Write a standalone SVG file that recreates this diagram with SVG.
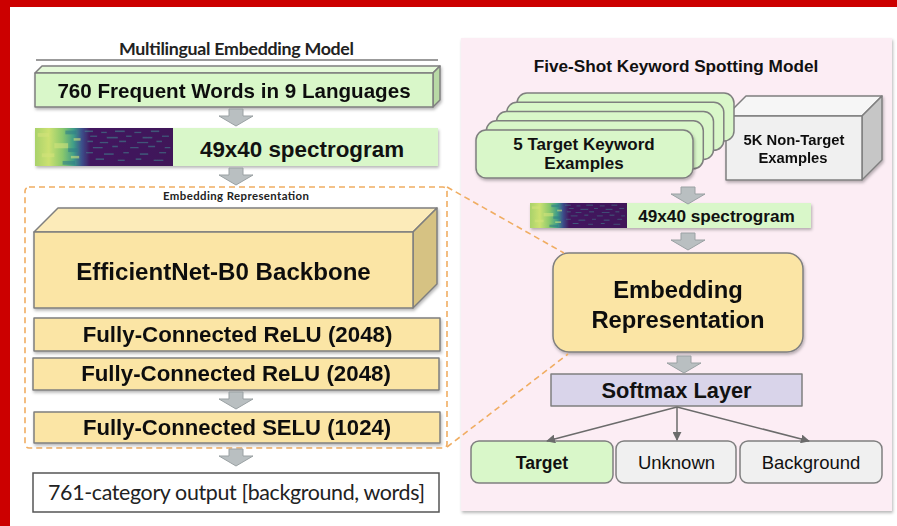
<svg xmlns="http://www.w3.org/2000/svg" xmlns:xlink="http://www.w3.org/1999/xlink" width="897" height="526" viewBox="0 0 897 526">
  <defs>
    <style>
      .b { font-family: "Liberation Sans", Arial, sans-serif; font-weight: bold; fill: #111; text-anchor: middle; }
      .r { font-family: "Liberation Sans", Arial, sans-serif; fill: #111; text-anchor: middle; }
      .l { font-family: Lato, "Liberation Sans", sans-serif; fill: #222; text-anchor: middle; }
      .edge { stroke: #7f7f7f; stroke-width: 1.5; stroke-linejoin: round; }
      .green { fill: #d9f7c9; }
      .greenTop { fill: #e4f9d8; }
      .greenSide { fill: #b8d9a5; }
      .gold { fill: #fbe5a5; }
      .goldTop { fill: #fcebb9; }
      .goldSide { fill: #d6c283; }
      .grey { fill: #f0f0f0; }
      .greyTop { fill: #f6f6f6; }
      .greySide { fill: #c6c6c6; }
      .blockArrow { fill: #b9bfc1; stroke: #9aa1a3; stroke-width: 1; }
      .thin { stroke: #6b6b6b; stroke-width: 1.5; fill: none; }
      .dash { stroke: #f0ad62; stroke-width: 1.6; stroke-dasharray: 6 4; fill: none; }
    </style>
    <filter id="shadow" x="-5%" y="-10%" width="112%" height="130%">
      <feDropShadow dx="1" dy="2" stdDeviation="1.4" flood-color="#000" flood-opacity="0.28"/>
    </filter>
    <filter id="soft" x="0" y="0" width="100%" height="100%">
      <feGaussianBlur stdDeviation="0.4"/>
    </filter>
    <linearGradient id="specGrad" x1="0" y1="0" x2="1" y2="0">
      <stop offset="0" stop-color="#a9d26b"/>
      <stop offset="0.1" stop-color="#cce171"/>
      <stop offset="0.2" stop-color="#8ac86c"/>
      <stop offset="0.28" stop-color="#3f9d88"/>
      <stop offset="0.34" stop-color="#3b4f8b"/>
      <stop offset="0.4" stop-color="#43195f"/>
      <stop offset="1" stop-color="#3f1759"/>
    </linearGradient>
    <!-- spectrogram thumbnail, stretched into place -->
    <symbol id="spec" viewBox="0 0 100 30" preserveAspectRatio="none">
      <g filter="url(#soft)">
        <rect width="100" height="30" fill="url(#specGrad)"/>
        <g fill="#3f8c92" opacity="0.55">
          <rect x="36" y="2" width="6" height="1.2"/><rect x="48" y="3" width="4" height="1"/>
          <rect x="58" y="2" width="7" height="1.2"/><rect x="72" y="3" width="5" height="1"/>
          <rect x="84" y="2" width="6" height="1.2"/><rect x="40" y="6" width="5" height="1"/>
          <rect x="52" y="7" width="8" height="1.2"/><rect x="66" y="6" width="4" height="1"/>
          <rect x="78" y="7" width="7" height="1.2"/><rect x="92" y="6" width="5" height="1"/>
          <rect x="38" y="10" width="4" height="1.2"/><rect x="47" y="11" width="6" height="1"/>
          <rect x="61" y="10" width="5" height="1.2"/><rect x="74" y="11" width="8" height="1"/>
          <rect x="88" y="10" width="4" height="1.2"/><rect x="42" y="15" width="7" height="1"/>
          <rect x="56" y="14" width="4" height="1.2"/><rect x="69" y="15" width="6" height="1"/>
          <rect x="82" y="14" width="5" height="1.2"/><rect x="94" y="15" width="4" height="1"/>
          <rect x="37" y="19" width="5" height="1"/><rect x="50" y="20" width="7" height="1.2"/>
          <rect x="64" y="19" width="4" height="1"/><rect x="76" y="20" width="6" height="1.2"/>
          <rect x="90" y="19" width="5" height="1"/><rect x="44" y="24" width="6" height="1.2"/>
          <rect x="60" y="25" width="5" height="1"/><rect x="73" y="24" width="4" height="1.2"/>
          <rect x="86" y="25" width="7" height="1"/>
        </g>
        <g fill="#d3e37a" opacity="0.6">
          <rect x="2" y="4" width="8" height="3"/><rect x="14" y="12" width="10" height="4"/>
          <rect x="5" y="20" width="9" height="3"/><rect x="28" y="8" width="5" height="2"/>
          <rect x="26" y="22" width="6" height="2"/>
        </g>
        <g fill="#2e7f87" opacity="0.6">
          <rect x="22" y="2" width="8" height="3"/><rect x="24" y="16" width="7" height="3"/>
          <rect x="20" y="26" width="9" height="3"/>
        </g>
      </g>
    </symbol>
    <!-- wide grey down arrow -->
    <path id="down" class="blockArrow" d="M -7 0 H 7 V 7 H 17 L 0 17 L -17 7 H -7 Z"/>
    <marker id="tip" viewBox="0 0 10 10" refX="9" refY="5" markerWidth="9" markerHeight="9" orient="auto" markerUnits="userSpaceOnUse">
      <path d="M 0 0 L 10 5 L 0 10 Z" fill="#6b6b6b"/>
    </marker>
  </defs>

  <!-- page -->
  <rect width="897" height="526" fill="#ffffff"/>
  <rect x="0" y="0" width="897" height="7" fill="#cc0000"/>
  <rect x="0" y="0" width="10" height="526" fill="#cc0000"/>

  <!-- right panel background -->
  <g id="fiveShotPanel">
    <rect x="461" y="38" width="431" height="473" fill="#fcedf4" filter="url(#shadow)"/>
    <text class="b" x="676" y="71.5" font-size="17.2">Five-Shot Keyword Spotting Model</text>
  </g>

  <!-- left column -->
  <g id="multilingualTitle">
    <text class="l" x="236.5" y="55" font-size="17.8" font-weight="bold" fill="#333" textLength="235">Multilingual Embedding Model</text>
    <line x1="36" y1="60" x2="438" y2="60" stroke="#7a7a7a" stroke-width="1.6"/>
  </g>

  <g id="frequentWords" filter="url(#shadow)">
    <polygon class="greenTop edge" points="35,73 42,66 440,66 433,73"/>
    <polygon class="greenSide edge" points="433,73 440,66 440,100 433,107"/>
    <rect class="green edge" x="35" y="73" width="398" height="34"/>
    <text class="b" x="234" y="98" font-size="20.6">760 Frequent Words in 9 Languages</text>
  </g>

  <g id="spectrogramLeft">
    <rect x="35" y="128" width="403" height="38" fill="#d9f7c9" filter="url(#shadow)"/>
    <use href="#spec" xlink:href="#spec" x="35" y="128" width="138" height="38"/>
    <text class="b" x="302" y="156.5" font-size="22.4">49x40 spectrogram</text>
  </g>

  <g id="embeddingGroup">
    <rect x="25" y="187" width="422" height="261" rx="4" fill="#fffaf1" class="dash"/>
    <text class="l" x="236" y="200" font-size="11.4" font-weight="bold" fill="#333" textLength="146">Embedding Representation</text>
  </g>

  <g id="efficientNet" filter="url(#shadow)">
    <polygon class="goldTop edge" points="34,232 58,208 437,208 413,232"/>
    <polygon class="goldSide edge" points="413,232 437,208 437,284 413,308"/>
    <rect class="gold edge" x="34" y="232" width="379" height="76"/>
    <text class="b" x="223.5" y="280" font-size="24.1">EfficientNet-B0 Backbone</text>
  </g>

  <g id="fcRelu1" filter="url(#shadow)">
    <rect class="gold edge" x="34" y="318" width="406" height="33"/>
    <text class="b" x="237.5" y="342" font-size="22.3">Fully-Connected ReLU (2048)</text>
  </g>

  <g id="fcRelu2" filter="url(#shadow)">
    <rect class="gold edge" x="33" y="358" width="406" height="32"/>
    <text class="b" x="236" y="381" font-size="22.3">Fully-Connected ReLU (2048)</text>
  </g>

  <g id="fcSelu" filter="url(#shadow)">
    <rect class="gold edge" x="34" y="412" width="406" height="31"/>
    <text class="b" x="237" y="435" font-size="22.1">Fully-Connected SELU (1024)</text>
  </g>

  <g id="categoryOutput">
    <rect x="33" y="473" width="406" height="39" fill="#ffffff" stroke="#555" stroke-width="1.5"/>
    <text class="l" x="236.5" y="499.5" font-size="21.4" textLength="377">761-category output [background, words]</text>
  </g>

  <!-- right column -->
  <g id="nonTarget" filter="url(#shadow)">
    <polygon class="greyTop edge" points="726,116 746,96 882,96 862,116"/>
    <polygon class="greySide edge" points="862,116 882,96 882,160 862,180"/>
    <rect class="grey edge" x="726" y="116" width="136" height="64"/>
    <text class="b" x="794" y="144.5" font-size="14.8">5K Non-Target</text>
    <text class="b" x="793" y="162.5" font-size="14.8">Examples</text>
  </g>

  <g id="targetExamples">
    <rect class="green edge" x="517" y="93" width="217" height="48" rx="10"/>
    <rect class="green edge" x="506.8" y="102.3" width="217" height="48" rx="10"/>
    <rect class="green edge" x="496.5" y="111.5" width="217" height="48" rx="10"/>
    <rect class="green edge" x="486.3" y="120.8" width="217" height="48" rx="10"/>
    <rect class="green edge" x="476" y="130" width="217" height="48" rx="10" filter="url(#shadow)"/>
    <text class="b" x="584" y="149.5" font-size="17">5 Target Keyword</text>
    <text class="b" x="584" y="169" font-size="17">Examples</text>
  </g>

  <g id="spectrogramRight">
    <rect x="530" y="203" width="281" height="25" fill="#d9f7c9" filter="url(#shadow)"/>
    <use href="#spec" xlink:href="#spec" x="530" y="203" width="97" height="25"/>
    <text class="b" x="716.5" y="221.7" font-size="17.2">49x40 spectrogram</text>
  </g>

  <g id="embeddingRepresentation" filter="url(#shadow)">
    <rect class="gold edge" x="553" y="253" width="250" height="99" rx="16"/>
    <text class="b" x="678" y="298" font-size="23.8">Embedding</text>
    <text class="b" x="678" y="327.5" font-size="23.8">Representation</text>
  </g>

  <g id="softmax">
    <rect x="551" y="374" width="251" height="32" fill="#d9d4ea" class="edge"/>
    <text class="b" x="676.5" y="398" font-size="21.8">Softmax Layer</text>
  </g>

  <g id="target">
    <rect class="green edge" x="471" y="441" width="142" height="42" rx="8"/>
    <text class="b" x="542" y="469" font-size="17.6">Target</text>
  </g>
  <g id="unknown">
    <rect class="grey edge" x="616" y="441" width="120" height="42" rx="8"/>
    <text class="r" x="676.5" y="469" font-size="18.5">Unknown</text>
  </g>
  <g id="background">
    <rect class="grey edge" x="740" y="441" width="142" height="42" rx="8"/>
    <text class="r" x="811" y="469" font-size="18.5">Background</text>
  </g>

  <!-- connectors -->
  <g id="connectors">
    <use href="#down" xlink:href="#down" x="236" y="109"/>
    <use href="#down" xlink:href="#down" x="236" y="168"/>
    <use href="#down" xlink:href="#down" x="236" y="392"/>
    <use href="#down" xlink:href="#down" x="236" y="449"/>
    <use href="#down" xlink:href="#down" x="688" y="187"/>
    <use href="#down" xlink:href="#down" x="688" y="233"/>
    <use href="#down" xlink:href="#down" x="684" y="356"/>
    <line class="thin" x1="677" y1="407" x2="547" y2="441" marker-end="url(#tip)"/>
    <line class="thin" x1="677" y1="407" x2="677" y2="440" marker-end="url(#tip)"/>
    <line class="thin" x1="677" y1="407" x2="809" y2="441" marker-end="url(#tip)"/>
    <line class="dash" x1="447" y1="187" x2="564" y2="253"/>
    <line class="dash" x1="447" y1="447" x2="568" y2="354"/>
  </g>
</svg>
